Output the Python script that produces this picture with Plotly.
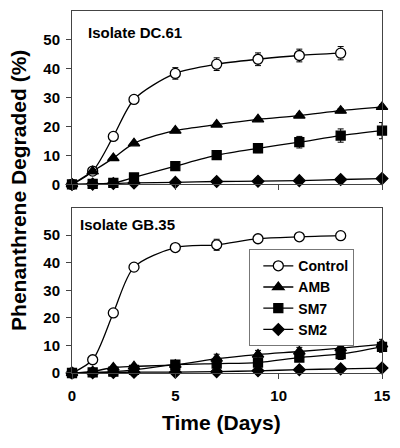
import plotly.graph_objects as go

days = [0, 1, 2, 3, 5, 7, 9, 11, 13, 15]
days_ctrl = [0, 1, 2, 3, 5, 7, 9, 11, 13]

# Isolate DC.61
dc_control = [0, 4.6, 16.6, 29.4, 38.4, 41.6, 43.3, 44.6, 45.4]
dc_control_err = [0, 0.5, 0.6, 0.8, 2.0, 2.2, 2.2, 2.2, 2.3]
dc_amb = [0, 4.5, 9.1, 14.2, 18.6, 20.7, 22.5, 23.8, 25.5, 26.8]
dc_amb_err = [0, 0.3, 0.3, 0.4, 0.5, 0.5, 0.6, 0.6, 0.7, 0.8]
dc_sm7 = [0, 0.2, 0.5, 2.4, 6.3, 10.1, 12.5, 14.6, 16.9, 18.6]
dc_sm7_err = [0, 0.2, 0.2, 0.4, 0.5, 0.6, 1.5, 2.0, 2.3, 2.8]
dc_sm2 = [0, 0.1, 0.3, 0.5, 0.7, 1.0, 1.1, 1.3, 1.7, 2.0]

# Isolate GB.35
gb_control = [0, 4.8, 21.8, 38.4, 45.5, 46.5, 48.7, 49.4, 49.8]
gb_control_err = [0, 0.4, 0.6, 0.8, 1.0, 2.0, 0.8, 1.2, 1.2]
gb_amb = [0, 0.6, 2.0, 2.4, 3.0, 5.2, 6.7, 7.8, 9.0, 10.4]
gb_amb_err = [0, 0.3, 0.4, 0.5, 0.6, 1.6, 1.5, 1.5, 1.5, 1.8]
gb_sm7 = [0, 0.2, 0.5, 1.1, 3.0, 3.4, 3.8, 5.6, 6.9, 9.5]
gb_sm7_err = [0, 0.2, 0.3, 0.4, 0.6, 1.0, 1.2, 1.4, 2.0, 2.0]
gb_sm2 = [0, 0.1, 0.2, 0.3, 0.3, 0.5, 0.8, 1.2, 1.5, 1.8]

names = ["Control", "AMB", "SM7", "SM2"]
symbols = ["circle", "triangle-up", "square", "diamond"]
sizes = [10, 10, 9, 9]

fig = go.Figure()

panels = [
    ("x", "y", [dc_control, dc_amb, dc_sm7, dc_sm2], [dc_control_err, dc_amb_err, dc_sm7_err, None], True),
    ("x2", "y2", [gb_control, gb_amb, gb_sm7, gb_sm2], [gb_control_err, gb_amb_err, gb_sm7_err, None], False),
]

for xa, ya, series, errs, first in panels:
    for i, (nm, vals) in enumerate(zip(names, series)):
        xs = days_ctrl if i == 0 else days
        err = errs[i]
        fill = "white" if i == 0 else "black"
        marker = dict(symbol=symbols[i], size=sizes[i], color=fill,
                      line=dict(color="black", width=1.3))
        fig.add_trace(go.Scatter(
            x=xs, y=vals, xaxis=xa, yaxis=ya, name=nm,
            mode="lines+markers",
            line=dict(color="black", width=1.3, shape="spline", smoothing=0.8),
            marker=marker,
            error_y=(dict(type="data", array=err, color="black", thickness=1, width=3)
                     if err is not None else None),
            showlegend=not first,
            cliponaxis=False,
        ))

tickfont = dict(family="Arial", size=15, color="black", weight="bold")
axis_common = dict(showline=True, linecolor="#444", linewidth=1, mirror=True,
                   ticks="outside", ticklen=5, tickcolor="#444", showgrid=False,
                   zeroline=False, tickfont=tickfont)

fig.update_layout(
    width=400, height=448,
    margin=dict(l=72, r=10, t=10, b=75),
    plot_bgcolor="white", paper_bgcolor="white",
    font=dict(family="Arial", color="black"),
    xaxis=dict(domain=[0, 1], range=[0, 15], anchor="y", tickvals=[0, 5, 10, 15],
               showticklabels=False, **axis_common),
    yaxis=dict(domain=[0.521, 1], range=[0, 60], anchor="x", tickvals=[0, 10, 20, 30, 40, 50],
               ticklabelstandoff=3, **axis_common),
    xaxis2=dict(domain=[0, 1], range=[0, 15], anchor="y2", tickvals=[0, 5, 10, 15],
                ticklabelstandoff=4, **axis_common),
    yaxis2=dict(domain=[0, 0.457], range=[0, 60], anchor="x2", tickvals=[0, 10, 20, 30, 40, 50],
                ticklabelstandoff=3, **axis_common),
    legend=dict(x=0.572, y=0.342, xanchor="left", yanchor="top",
                bordercolor="#777", borderwidth=1, bgcolor="white",
                font=dict(family="Arial", size=14, color="black", weight="bold"),
                tracegroupgap=0, itemwidth=30, indentation=8),
    showlegend=True,
)

fig.add_annotation(text="<b>Isolate DC.61</b>", xref="paper", yref="paper",
                   x=0.045, y=0.94, xanchor="left", yanchor="middle", showarrow=False,
                   font=dict(family="Arial", size=15, color="black"))
fig.add_annotation(text="<b>Isolate GB.35</b>", xref="paper", yref="paper",
                   x=0.02, y=0.41, xanchor="left", yanchor="middle", showarrow=False,
                   font=dict(family="Arial", size=15, color="black"))
fig.add_annotation(text="<b>Phenanthrene Degraded (%)</b>", xref="paper", yref="paper",
                   x=-0.173, y=0.504, xanchor="center", yanchor="middle", textangle=-90,
                   showarrow=False, font=dict(family="Arial", size=21, color="black"))
fig.add_annotation(text="<b>Time (Days)</b>", xref="paper", yref="paper",
                   x=0.482, y=-0.138, xanchor="center", yanchor="middle",
                   showarrow=False, font=dict(family="Arial", size=21, color="black"))

fig.write_html("out.html", config={"displayModeBar": False},
               post_script="document.body.style.margin='0';document.body.style.padding='0';")
